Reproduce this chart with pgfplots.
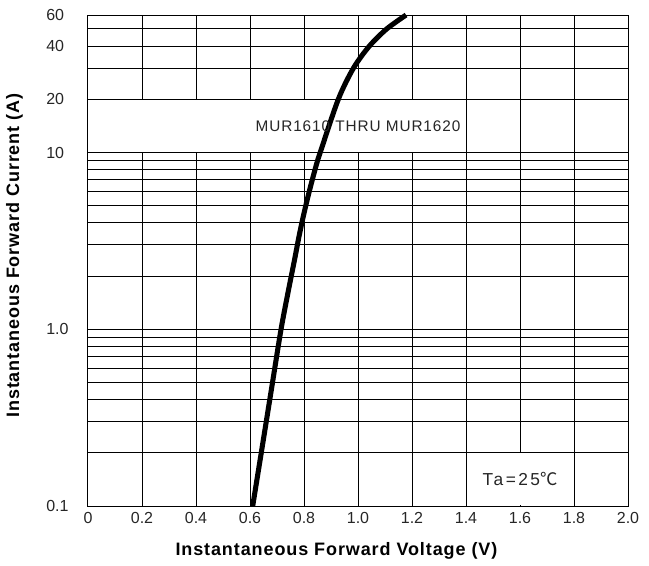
\documentclass[border=0pt]{standalone}
\usepackage{fontspec}
\setmainfont{Liberation Sans}
\newfontfamily\spaced{Liberation Sans}[LetterSpace=5]
\newfontfamily\cjk{Noto Sans CJK SC}
\usepackage{pgfplots}
\pgfplotsset{compat=1.18}

\begin{document}
\begin{tikzpicture}
\begin{axis}[
    scale only axis,
    width=405pt, height=368.25pt,
    at={(0,0)}, anchor=south west,
    ymode=log,
    xmin=0, xmax=2, ymin=0.1, ymax=60,
    xtick={0,0.2,0.4,0.6,0.8,1.0,1.2,1.4,1.6,1.8,2.0},
    xticklabels={0,0.2,0.4,0.6,0.8,1.0,1.2,1.4,1.6,1.8,2.0},
    ytick={0.1,1,10,20,40,60},
    yticklabels={0.1,1.0,10,20,40,60},
    minor ytick={0.2,0.3,0.4,0.5,0.6,0.7,0.8,0.9,2,3,4,5,6,7,8,9,30,50},
    grid=both,
    major grid style={black, line width=0.75pt},
    minor grid style={black, line width=0.75pt},
    axis line style={black, line width=0.75pt},
    major tick length=0pt, minor tick length=0pt,
    tick label style={font=\fontsize{12}{14}\selectfont, text=black!85},
    yticklabel style={anchor=west, inner sep=0pt, xshift=-31.5pt},
    xticklabel style={yshift=-1pt},
    xlabel={\spaced\bfseries Instantaneous Forward Voltage (V)},
    ylabel={\spaced\bfseries Instantaneous Forward Current (A)},
    label style={font=\fontsize{13.5}{16}\selectfont},
    xlabel style={at={(axis description cs:0.46,-0.0916)}, anchor=center},
    ylabel style={at={(axis description cs:-0.136,0.51)}, anchor=center},
    clip=false,
]
% white boxes behind the two notes
\fill[white] ([xshift=0.5pt,yshift=0.5pt]axis cs:0,10) rectangle ([xshift=-0.5pt,yshift=-0.5pt]axis cs:1.4,20);
\fill[white] ([xshift=0.5pt,yshift=0.5pt]axis cs:1.4,0.1) rectangle ([xshift=-0.5pt,yshift=-0.5pt]axis cs:1.8,0.2);

\addplot[black, line width=3.8pt, smooth, line join=round] coordinates {
    (0.610,0.1) (0.645,0.215) (0.680,0.464) (0.715,1.0)
    (0.744,1.71) (0.764,2.43) (0.781,3.32) (0.796,4.26) (0.811,5.34)
    (0.824,6.41) (0.835,7.42) (0.847,8.65) (0.860,10)
    (0.927,20) (0.983,30) (1.042,40) (1.106,50) (1.178,60)
};

\node[font={\fontspec{Liberation Sans}[LetterSpace=6]\fontsize{11.5}{13}\selectfont}, text=black!85]
    at (axis cs:1.0,14.1) {MUR1610 THRU MUR1620};
\node[font={\fontspec{Liberation Sans}[LetterSpace=14]\fontsize{13}{15}\selectfont}, text=black!85]
    at (axis cs:1.6,0.142) {Ta=25{\cjk ℃}};
\end{axis}
\pgfresetboundingbox
\path[use as bounding box] (-66pt,-44.25pt) rectangle (420.75pt,379.5pt);
\end{tikzpicture}
\end{document}
